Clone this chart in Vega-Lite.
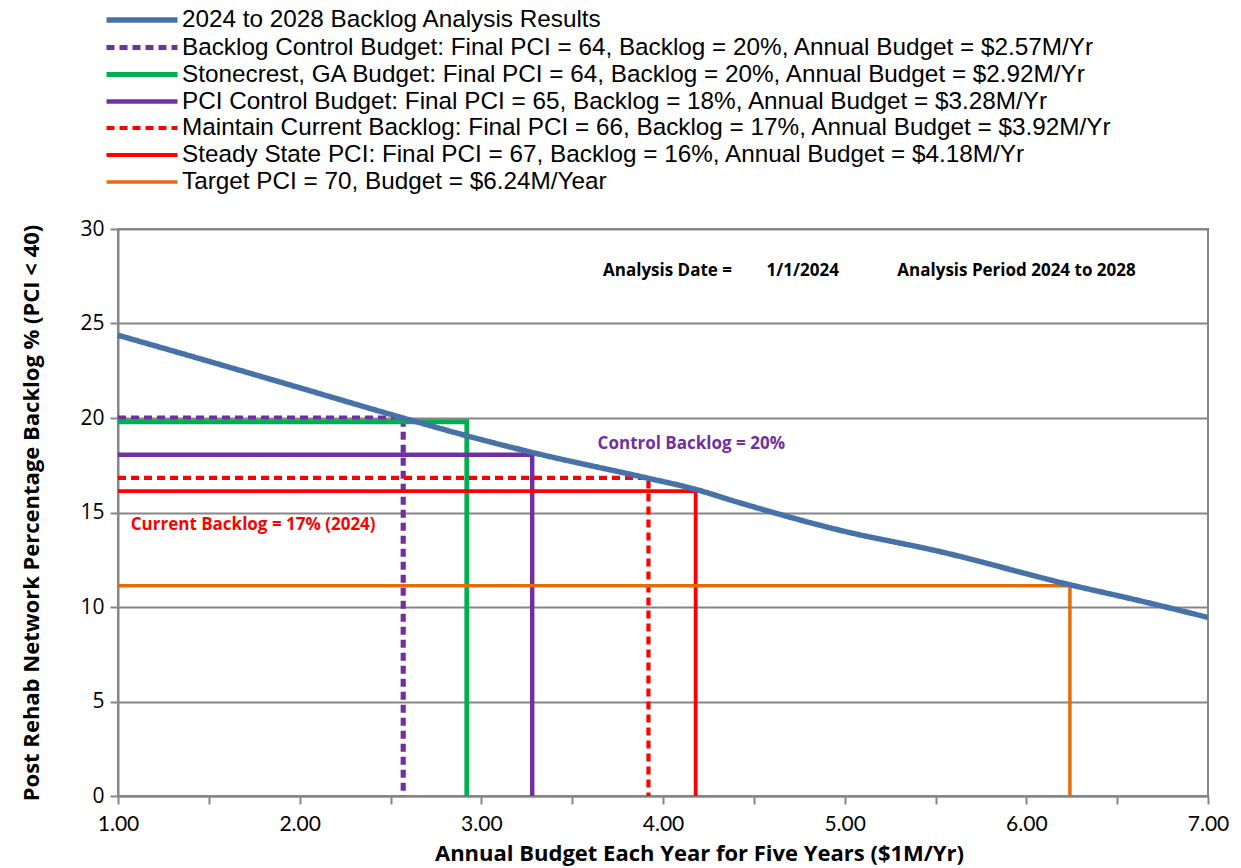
{
  "$schema": "https://vega.github.io/schema/vega-lite/v6.json",
  "width": 1090,
  "height": 567,
  "autosize": "none",
  "padding": {"left": 118, "top": 229, "right": 33, "bottom": 72},
  "background": "white",
  "config": {
    "view": {"stroke": "#868686", "strokeWidth": 2},
    "axis": {
      "domainColor": "#868686", "domainWidth": 2,
      "tickColor": "#868686", "tickWidth": 2, "tickSize": 8,
      "labelColor": "#000000", "titleColor": "#000000",
      "gridColor": "#868686", "gridWidth": 2
    }
  },
  "datasets": {
    "curve": [
      {"s": "2024 to 2028 Backlog Analysis Results", "x": 1.0, "y": 24.38, "o": 0},
      {"s": "2024 to 2028 Backlog Analysis Results", "x": 1.5, "y": 23.0, "o": 1},
      {"s": "2024 to 2028 Backlog Analysis Results", "x": 2.0, "y": 21.6, "o": 2},
      {"s": "2024 to 2028 Backlog Analysis Results", "x": 2.57, "y": 20.0, "o": 3},
      {"s": "2024 to 2028 Backlog Analysis Results", "x": 2.99, "y": 18.88, "o": 4},
      {"s": "2024 to 2028 Backlog Analysis Results", "x": 3.27, "y": 18.2, "o": 5},
      {"s": "2024 to 2028 Backlog Analysis Results", "x": 3.91, "y": 16.83, "o": 6},
      {"s": "2024 to 2028 Backlog Analysis Results", "x": 4.17, "y": 16.25, "o": 7},
      {"s": "2024 to 2028 Backlog Analysis Results", "x": 4.42, "y": 15.52, "o": 8},
      {"s": "2024 to 2028 Backlog Analysis Results", "x": 4.97, "y": 14.07, "o": 9},
      {"s": "2024 to 2028 Backlog Analysis Results", "x": 5.525, "y": 12.93, "o": 10},
      {"s": "2024 to 2028 Backlog Analysis Results", "x": 6.23, "y": 11.2, "o": 11},
      {"s": "2024 to 2028 Backlog Analysis Results", "x": 6.625, "y": 10.33, "o": 12},
      {"s": "2024 to 2028 Backlog Analysis Results", "x": 7.0, "y": 9.45, "o": 13}
    ],
    "drops": [
      {"s": "Backlog Control Budget: Final PCI = 64, Backlog = 20%, Annual Budget = $2.57M/Yr", "x": 1.0, "y": 20.0, "o": 0},
      {"s": "Backlog Control Budget: Final PCI = 64, Backlog = 20%, Annual Budget = $2.57M/Yr", "x": 2.57, "y": 20.0, "o": 1},
      {"s": "Backlog Control Budget: Final PCI = 64, Backlog = 20%, Annual Budget = $2.57M/Yr", "x": 2.57, "y": 0, "o": 2},
      {"s": "Stonecrest, GA Budget: Final PCI = 64, Backlog = 20%, Annual Budget = $2.92M/Yr", "x": 1.0, "y": 19.8, "o": 0},
      {"s": "Stonecrest, GA Budget: Final PCI = 64, Backlog = 20%, Annual Budget = $2.92M/Yr", "x": 2.92, "y": 19.8, "o": 1},
      {"s": "Stonecrest, GA Budget: Final PCI = 64, Backlog = 20%, Annual Budget = $2.92M/Yr", "x": 2.92, "y": 0, "o": 2},
      {"s": "PCI Control Budget: Final PCI = 65, Backlog = 18%, Annual Budget = $3.28M/Yr", "x": 1.0, "y": 18.05, "o": 0},
      {"s": "PCI Control Budget: Final PCI = 65, Backlog = 18%, Annual Budget = $3.28M/Yr", "x": 3.28, "y": 18.05, "o": 1},
      {"s": "PCI Control Budget: Final PCI = 65, Backlog = 18%, Annual Budget = $3.28M/Yr", "x": 3.28, "y": 0, "o": 2},
      {"s": "Maintain Current Backlog: Final PCI = 66, Backlog = 17%, Annual Budget = $3.92M/Yr", "x": 1.0, "y": 16.83, "o": 0},
      {"s": "Maintain Current Backlog: Final PCI = 66, Backlog = 17%, Annual Budget = $3.92M/Yr", "x": 3.92, "y": 16.83, "o": 1},
      {"s": "Maintain Current Backlog: Final PCI = 66, Backlog = 17%, Annual Budget = $3.92M/Yr", "x": 3.92, "y": 0, "o": 2},
      {"s": "Steady State PCI: Final PCI = 67, Backlog = 16%, Annual Budget = $4.18M/Yr", "x": 1.0, "y": 16.13, "o": 0},
      {"s": "Steady State PCI: Final PCI = 67, Backlog = 16%, Annual Budget = $4.18M/Yr", "x": 4.18, "y": 16.13, "o": 1},
      {"s": "Steady State PCI: Final PCI = 67, Backlog = 16%, Annual Budget = $4.18M/Yr", "x": 4.18, "y": 0, "o": 2},
      {"s": "Target PCI = 70, Budget = $6.24M/Year", "x": 1.0, "y": 11.13, "o": 0},
      {"s": "Target PCI = 70, Budget = $6.24M/Year", "x": 6.24, "y": 11.13, "o": 1},
      {"s": "Target PCI = 70, Budget = $6.24M/Year", "x": 6.24, "y": 0, "o": 2}
    ]
  },
  "layer": [
    {
      "data": {"name": "drops"},
      "mark": {"type": "line", "interpolate": "linear"},
      "encoding": {
        "x": {"field": "x", "type": "quantitative"},
        "y": {"field": "y", "type": "quantitative"},
        "order": {"field": "o"},
        "color": {"field": "s"},
        "strokeDash": {"field": "s"},
        "strokeWidth": {"field": "s"}
      }
    },
    {
      "data": {"name": "curve"},
      "mark": {"type": "line", "interpolate": "monotone"},
      "encoding": {
        "x": {
          "field": "x", "type": "quantitative",
          "scale": {"domain": [1, 7], "nice": false, "zero": false},
          "axis": {
            "values": [1, 1.5, 2, 2.5, 3, 3.5, 4, 4.5, 5, 5.5, 6, 6.5, 7],
            "labelExpr": "datum.value % 1 == 0 ? format(datum.value, '.2f') : ''",
            "grid": false, "labelFlush": false,
            "labelFont": "Lato", "labelFontSize": 21, "labelPadding": 9,
            "title": "Annual Budget Each Year for Five Years ($1M/Yr)",
            "titleFont": "Open Sans", "titleFontSize": 22, "titleFontWeight": "bold", "titlePadding": 9,
            "titleX": 581, "titleAlign": "center"
          }
        },
        "y": {
          "field": "y", "type": "quantitative",
          "scale": {"domain": [0, 30], "nice": false},
          "axis": {
            "values": [0, 5, 10, 15, 20, 25, 30],
            "grid": true,
            "labelFont": "Open Sans", "labelFontSize": 21, "labelPadding": 6,
            "title": "Post Rehab Network Percentage Backlog % (PCI < 40)",
            "titleFont": "Open Sans", "titleFontSize": 22, "titleFontWeight": "bold", "titlePadding": 36
          }
        },
        "order": {"field": "o"},
        "color": {
          "field": "s", "type": "nominal",
          "scale": {
            "domain": [
              "2024 to 2028 Backlog Analysis Results",
              "Backlog Control Budget: Final PCI = 64, Backlog = 20%, Annual Budget = $2.57M/Yr",
              "Stonecrest, GA Budget: Final PCI = 64, Backlog = 20%, Annual Budget = $2.92M/Yr",
              "PCI Control Budget: Final PCI = 65, Backlog = 18%, Annual Budget = $3.28M/Yr",
              "Maintain Current Backlog: Final PCI = 66, Backlog = 17%, Annual Budget = $3.92M/Yr",
              "Steady State PCI: Final PCI = 67, Backlog = 16%, Annual Budget = $4.18M/Yr",
              "Target PCI = 70, Budget = $6.24M/Year"
            ],
            "range": ["#4672A8", "#7030A0", "#00B050", "#7030A0", "#FF0000", "#FF0000", "#E46C0A"]
          },
          "legend": {
            "orient": "none", "legendX": 9, "legendY": -224, "title": null,
            "symbolType": "M-3,0H3", "symbolSize": 560,
            "labelFont": "Liberation Sans", "labelFontSize": 24.3, "labelColor": "#000000",
            "labelOffset": 25, "rowPadding": 0, "labelLimit": 1200
          }
        },
        "strokeDash": {
          "field": "s", "type": "nominal",
          "scale": {
            "domain": [
              "2024 to 2028 Backlog Analysis Results",
              "Backlog Control Budget: Final PCI = 64, Backlog = 20%, Annual Budget = $2.57M/Yr",
              "Stonecrest, GA Budget: Final PCI = 64, Backlog = 20%, Annual Budget = $2.92M/Yr",
              "PCI Control Budget: Final PCI = 65, Backlog = 18%, Annual Budget = $3.28M/Yr",
              "Maintain Current Backlog: Final PCI = 66, Backlog = 17%, Annual Budget = $3.92M/Yr",
              "Steady State PCI: Final PCI = 67, Backlog = 16%, Annual Budget = $4.18M/Yr",
              "Target PCI = 70, Budget = $6.24M/Year"
            ],
            "range": [[1, 0], [8, 5], [1, 0], [1, 0], [8, 5], [1, 0], [1, 0]]
          },
          "legend": null
        },
        "strokeWidth": {
          "field": "s", "type": "nominal",
          "scale": {
            "domain": [
              "2024 to 2028 Backlog Analysis Results",
              "Backlog Control Budget: Final PCI = 64, Backlog = 20%, Annual Budget = $2.57M/Yr",
              "Stonecrest, GA Budget: Final PCI = 64, Backlog = 20%, Annual Budget = $2.92M/Yr",
              "PCI Control Budget: Final PCI = 65, Backlog = 18%, Annual Budget = $3.28M/Yr",
              "Maintain Current Backlog: Final PCI = 66, Backlog = 17%, Annual Budget = $3.92M/Yr",
              "Steady State PCI: Final PCI = 67, Backlog = 16%, Annual Budget = $4.18M/Yr",
              "Target PCI = 70, Budget = $6.24M/Year"
            ],
            "range": [5.5, 3.5, 3, 3, 3.5, 3.5, 2.5]
          },
          "legend": null
        }
      }
    },
    {
      "data": {"values": [
        {"x": 3.67, "y": 27.78, "t": "Analysis Date ="},
        {"x": 4.57, "y": 27.78, "t": "1/1/2024"},
        {"x": 5.29, "y": 27.78, "t": "Analysis Period 2024 to 2028"}
      ]},
      "mark": {"type": "text", "align": "left", "baseline": "middle", "font": "Open Sans", "fontWeight": "bold", "fontSize": 17, "color": "#000000"},
      "encoding": {
        "x": {"field": "x", "type": "quantitative"},
        "y": {"field": "y", "type": "quantitative"},
        "text": {"field": "t"}
      }
    },
    {
      "data": {"values": [{"x": 3.64, "y": 18.62, "t": "Control Backlog = 20%"}]},
      "mark": {"type": "text", "align": "left", "baseline": "middle", "font": "Open Sans", "fontWeight": "bold", "fontSize": 17, "color": "#7030A0"},
      "encoding": {
        "x": {"field": "x", "type": "quantitative"},
        "y": {"field": "y", "type": "quantitative"},
        "text": {"field": "t"}
      }
    },
    {
      "data": {"values": [{"x": 1.07, "y": 14.34, "t": "Current Backlog = 17% (2024)"}]},
      "mark": {"type": "text", "align": "left", "baseline": "middle", "font": "Open Sans", "fontWeight": "bold", "fontSize": 17, "color": "#FF0000"},
      "encoding": {
        "x": {"field": "x", "type": "quantitative"},
        "y": {"field": "y", "type": "quantitative"},
        "text": {"field": "t"}
      }
    }
  ]
}
